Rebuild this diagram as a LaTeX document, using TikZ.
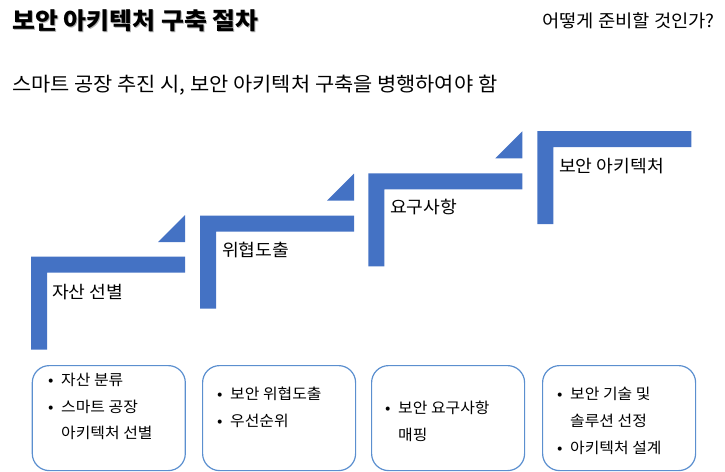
\documentclass[tikz,border=0pt]{standalone}
\usepackage{fontspec}
\setmainfont{Noto Sans CJK KR}[FakeStretch=1.06]
\usepackage{tikz}
\usetikzlibrary{positioning}

\definecolor{stairblue}{HTML}{4472C4}
\definecolor{boxblue}{HTML}{5B8FCF}
\newcommand{\bl}{\makebox[13pt][l]{\textbullet}}

\begin{document}
\begin{tikzpicture}[
    x=1pt, y=-1pt,
    stair/.style={fill=stairblue},
    stepl/.style={anchor=west, inner sep=0pt, font=\fontsize{17.2}{20}\selectfont},
    card/.style={draw=boxblue, line width=1.2pt, rounded corners=17pt,
                 minimum width=153pt, minimum height=105pt, anchor=north west},
    items/.style={anchor=west, inner sep=0pt, align=left,
                  font=\fontsize{15}{26.7}\selectfont},
    head/.style={anchor=west, inner sep=0pt, font=\fontsize{23.5}{28}\selectfont\bfseries},
]
\useasboundingbox (0,0) rectangle (725,471);

% Header
\node[head, text=black!30] (shadow) at (13.2,22.2) {보안 아키텍처 구축 절차};
\node[head] (title) at (12,21) {보안 아키텍처 구축 절차};
\node[anchor=east, inner sep=0pt, font=\fontsize{17.7}{21}\selectfont] (ask) at (715,21) {어떻게 준비할 것인가?};
\node[anchor=west, inner sep=0pt, font=\fontsize{19.7}{24}\selectfont] (sub) at (12,85) {스마트 공장 추진 시, 보안 아키텍처 구축을 병행하여야 함};

% Stairs
\fill[stair] (31,256.7) -- ++(154,0) -- ++(0,16) -- ++(-138,0) -- ++(0,77) -- ++(-16,0) -- cycle;
\fill[stair] (185,242) -- ++(0,-27) -- ++(-27,27) -- cycle;
\fill[stair] (200,215.7) -- ++(154,0) -- ++(0,16) -- ++(-138,0) -- ++(0,77) -- ++(-16,0) -- cycle;
\fill[stair] (354,200.7) -- ++(0,-27) -- ++(-27,27) -- cycle;
\fill[stair] (368.3,173.3) -- ++(154,0) -- ++(0,16) -- ++(-138,0) -- ++(0,77) -- ++(-16,0) -- cycle;
\fill[stair] (522.3,158.3) -- ++(0,-27) -- ++(-27,27) -- cycle;
\fill[stair] (537.3,131) -- ++(154,0) -- ++(0,16) -- ++(-138,0) -- ++(0,77) -- ++(-16,0) -- cycle;

% Step labels
\node[stepl] (asset) at (52,291.7) {자산 선별};
\node[stepl] (threat) at (222,250) {위협도출};
\node[stepl] (req) at (390,207) {요구사항};
\node[stepl] (arch) at (559,166) {보안 아키텍처};

% Detail cards
\node[card] (c1) at (31.7,365) {};
\node[card] (c2) at (202,365) {};
\node[card] (c3) at (371,365) {};
\node[card] (c4) at (542,365) {};

\node[items] (t1) at (48,406.5) {\bl 자산 분류\\ \bl 스마트 공장\\ \hspace*{13pt}아키텍처 선별};
\node[items] (t2) at (217,407) {\bl 보안 위협도출\\ \bl 우선순위};
\node[items] (t3) at (385,421) {\bl 보안 요구사항\\ \hspace*{13pt}매핑};
\node[items] (t4) at (557,421) {\bl 보안 기술 및\\ \hspace*{13pt}솔루션 선정\\ \bl 아키텍처 설계};

\end{tikzpicture}
\end{document}
